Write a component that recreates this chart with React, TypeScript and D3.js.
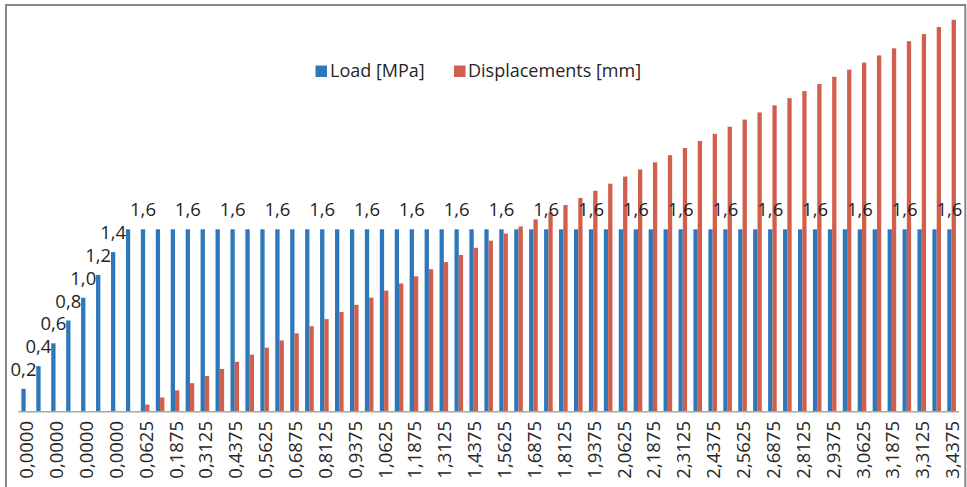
import React from "react";
import * as d3 from "d3";

const categories: string[] = [
  "0,0000", "0,0000", "0,0000", "0,0000", "0,0000", "0,0000", "0,0000", "0,0000",
  "0,0625", "0,1250", "0,1875", "0,2500", "0,3125", "0,3750", "0,4375", "0,5000",
  "0,5625", "0,6250", "0,6875", "0,7500", "0,8125", "0,8750", "0,9375", "1,0000",
  "1,0625", "1,1250", "1,1875", "1,2500", "1,3125", "1,3750", "1,4375", "1,5000",
  "1,5625", "1,6250", "1,6875", "1,7500", "1,8125", "1,8750", "1,9375", "2,0000",
  "2,0625", "2,1250", "2,1875", "2,2500", "2,3125", "2,3750", "2,4375", "2,5000",
  "2,5625", "2,6250", "2,6875", "2,7500", "2,8125", "2,8750", "2,9375", "3,0000",
  "3,0625", "3,1250", "3,1875", "3,2500", "3,3125", "3,3750", "3,4375",
];

const loadMPa: number[] = [
  0.2, 0.4, 0.6, 0.8, 1.0, 1.2, 1.4, 1.6,
  1.6, 1.6, 1.6, 1.6, 1.6, 1.6, 1.6, 1.6,
  1.6, 1.6, 1.6, 1.6, 1.6, 1.6, 1.6, 1.6,
  1.6, 1.6, 1.6, 1.6, 1.6, 1.6, 1.6, 1.6,
  1.6, 1.6, 1.6, 1.6, 1.6, 1.6, 1.6, 1.6,
  1.6, 1.6, 1.6, 1.6, 1.6, 1.6, 1.6, 1.6,
  1.6, 1.6, 1.6, 1.6, 1.6, 1.6, 1.6, 1.6,
  1.6, 1.6, 1.6, 1.6, 1.6, 1.6, 1.6,
];

const displacementsMm: number[] = [
  0, 0, 0, 0, 0, 0, 0, 0,
  0.0625, 0.125, 0.1875, 0.25, 0.3125, 0.375, 0.4375, 0.5,
  0.5625, 0.625, 0.6875, 0.75, 0.8125, 0.875, 0.9375, 1.0,
  1.0625, 1.125, 1.1875, 1.25, 1.3125, 1.375, 1.4375, 1.5,
  1.5625, 1.625, 1.6875, 1.75, 1.8125, 1.875, 1.9375, 2.0,
  2.0625, 2.125, 2.1875, 2.25, 2.3125, 2.375, 2.4375, 2.5,
  2.5625, 2.625, 2.6875, 2.75, 2.8125, 2.875, 2.9375, 3.0,
  3.0625, 3.125, 3.1875, 3.25, 3.3125, 3.375, 3.4375,
];

// indices of load points that carry a data label
const loadLabelIndices: number[] = [0, 1, 2, 3, 4, 5, 6, 8, 11, 14, 17, 20, 23, 26, 29, 32, 35, 38, 41, 44, 47, 50, 53, 56, 59, 62];

const seriesNames: string[] = ["Load [MPa]", "Displacements [mm]"];
const seriesColors: string[] = ["#2E78BA", "#D0604D"];

const W = 967;
const H = 487;
const FONT = "'Open Sans', 'Noto Sans', sans-serif";

export default function App() {
  const plotLeft = 18.2;
  const plotRight = 959.1;
  const baseY = 411.7;
  const topY = 12.7;

  const idx = categories.map((_, i) => i);
  const x0 = d3.scaleBand<number>().domain(idx).range([plotLeft, plotRight]).paddingInner(0).paddingOuter(0);
  const bw = x0.bandwidth();
  const barW = 4.3;
  const x1 = d3
    .scaleBand<string>()
    .domain(["load", "disp"])
    .range([bw / 2 - barW, bw / 2 + barW]);
  const y = d3.scaleLinear().domain([0, 3.5]).range([baseY, topY]);

  const fmt = (v: number) => d3.format(".1f")(v).replace(".", ",");

  return (
    <svg
      width={W}
      height={H}
      style={{ position: "absolute", left: 0, top: 0, display: "block", background: "#fff" }}
      fontFamily={FONT}
    >
      <rect x={0} y={0} width={W} height={H} fill="#fff" />
      <rect x={6} y={5} width={959.3} height={500} fill="none" stroke="#868686" strokeWidth={2} />

      {/* bars */}
      {idx.map((i) => (
        <g key={i}>
          <rect
            x={(x0(i) as number) + (x1("load") as number)}
            y={y(loadMPa[i])}
            width={x1.bandwidth()}
            height={baseY - y(loadMPa[i])}
            fill={seriesColors[0]}
          />
          {displacementsMm[i] > 0 && (
            <rect
              x={(x0(i) as number) + (x1("disp") as number)}
              y={y(displacementsMm[i])}
              width={x1.bandwidth()}
              height={baseY - y(displacementsMm[i])}
              fill={seriesColors[1]}
            />
          )}
        </g>
      ))}

      {/* axis line */}
      <line x1={plotLeft} x2={plotRight} y1={baseY} y2={baseY} stroke="#A6A6A6" strokeWidth={1.5} />

      {/* data labels */}
      {loadLabelIndices.map((i) => (
        <text
          key={"l" + i}
          x={(x0(i) as number) + (x1("load") as number) + x1.bandwidth() / 2}
          y={y(loadMPa[i]) - 13}
          textAnchor="middle"
          fontSize={18.5}
          fill="#262626"
        >
          {fmt(loadMPa[i])}
        </text>
      ))}

      {/* x tick labels (every second category) */}
      {idx
        .filter((i) => i % 2 === 0)
        .map((i) => {
          const cx = (x0(i) as number) + bw / 2 + 1;
          const ty = 421;
          return (
            <text
              key={"t" + i}
              transform={`translate(${cx},${ty}) rotate(-90)`}
              textAnchor="end"
              dy="0.35em"
              fontSize={18.5}
              fill="#262626"
            >
              {categories[i]}
            </text>
          );
        })}

      {/* legend */}
      <g>
        <rect x={315.5} y={65.5} width={11.5} height={11.5} fill={seriesColors[0]} />
        <text x={330} y={77} fontSize={18} fill="#262626">
          {seriesNames[0]}
        </text>
        <rect x={454} y={65.5} width={11.5} height={11.5} fill={seriesColors[1]} />
        <text x={468} y={77} fontSize={18} fill="#262626">
          {seriesNames[1]}
        </text>
      </g>
    </svg>
  );
}
